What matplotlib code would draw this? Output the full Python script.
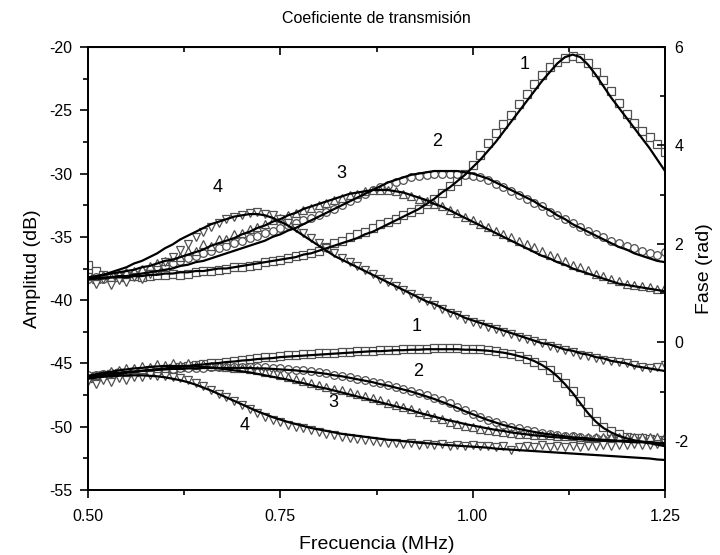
import numpy as np
import matplotlib
matplotlib.use("Agg")
import matplotlib.pyplot as plt
from matplotlib.ticker import MultipleLocator

plt.rcParams['font.family'] = ['Liberation Sans', 'DejaVu Sans']
plt.rcParams['axes.unicode_minus'] = False

# frequency grid (MHz)
freq = np.round(np.arange(0.50, 1.2501, 0.01), 2)

# ---- amplitude (dB), measured points ----
amp1 = [-37.2, -37.7, -38.0, -38.1, -38.2, -38.1, -38.1, -38.2, -38.1, -38.0,
        -38.0, -37.9, -38.0, -37.9, -37.8, -37.7, -37.7, -37.6, -37.5, -37.4,
        -37.4, -37.3, -37.2, -37.0, -36.9, -36.8, -36.7, -36.5, -36.4, -36.3,
        -36.1, -35.8, -35.5, -35.3, -35.0, -34.8, -34.6, -34.3, -34.0, -33.8,
        -33.6, -33.3, -33.0, -32.8, -32.4, -32.0, -31.5, -31.0, -30.6, -30.0,
        -29.3, -28.5, -27.6, -26.8, -26.1, -25.4, -24.5, -23.7, -22.9, -22.2,
        -21.6, -21.2, -20.9, -20.7, -20.9, -21.3, -22.0, -22.6, -23.5, -24.4,
        -25.3, -26.0, -26.6, -27.1, -27.7, -28.3]
amp2 = [-38.3, -38.2, -38.3, -38.1, -38.1, -38.0, -37.9, -37.8, -37.6, -37.5,
        -37.3, -37.1, -36.9, -36.7, -36.5, -36.3, -36.1, -35.9, -35.7, -35.5,
        -35.3, -35.1, -34.9, -34.7, -34.5, -34.3, -34.1, -33.9, -33.7, -33.5,
        -33.3, -33.0, -32.8, -32.5, -32.2, -31.9, -31.6, -31.3, -31.1, -30.9,
        -30.7, -30.5, -30.3, -30.2, -30.1, -30.0, -30.0, -30.0, -30.0, -30.1,
        -30.2, -30.3, -30.5, -30.8, -31.1, -31.4, -31.7, -32.0, -32.3, -32.6,
        -33.0, -33.3, -33.6, -33.9, -34.2, -34.5, -34.8, -35.0, -35.3, -35.5,
        -35.7, -35.9, -36.1, -36.3, -36.4, -36.2]
amp3 = [-38.1, -38.3, -38.0, -38.2, -37.9, -37.8, -37.7, -37.5, -37.3, -37.1,
        -36.9, -36.6, -36.6, -36.1, -36.1, -35.6, -35.7, -35.2, -35.2, -34.8,
        -34.7, -34.4, -34.2, -34.0, -33.7, -33.5, -33.3, -33.1, -32.9, -32.7,
        -32.5, -32.3, -32.1, -31.9, -31.7, -31.6, -31.4, -31.3, -31.3, -31.3,
        -31.4, -31.6, -31.8, -32.0, -32.2, -32.4, -32.6, -32.9, -33.1, -33.4,
        -33.7, -34.0, -34.2, -34.5, -34.8, -35.0, -35.3, -35.6, -35.8, -36.1,
        -36.4, -36.6, -36.9, -37.2, -37.4, -37.6, -37.9, -38.1, -38.3, -38.5,
        -38.7, -38.8, -38.9, -39.0, -39.1, -39.0]
amp4 = [-38.2, -38.7, -38.3, -38.8, -38.4, -38.6, -38.2, -38.3, -37.9, -37.6,
        -37.0, -36.6, -36.0, -35.6, -35.0, -34.6, -34.2, -33.9, -33.6, -33.4,
        -33.3, -33.1, -33.0, -33.2, -33.3, -33.6, -33.9, -34.3, -34.7, -35.1,
        -35.5, -35.9, -36.3, -36.7, -37.0, -37.3, -37.6, -37.9, -38.3, -38.6,
        -38.9, -39.2, -39.5, -39.8, -40.1, -40.4, -40.7, -41.0, -41.2, -41.5,
        -41.7, -41.9, -42.1, -42.3, -42.5, -42.7, -42.9, -43.1, -43.2, -43.4,
        -43.6, -43.8, -43.9, -44.1, -44.3, -44.4, -44.6, -44.7, -44.8, -44.9,
        -45.0, -45.1, -45.3, -45.4, -45.3, -45.1]

# ---- amplitude (dB), fitted curves ----
amp1_fit = [-38.3, -38.3, -38.3, -38.2, -38.2, -38.2, -38.1, -38.1, -38.0, -38.0,
            -37.9, -37.9, -37.8, -37.8, -37.7, -37.7, -37.6, -37.5, -37.5, -37.4,
            -37.3, -37.2, -37.1, -37.0, -36.9, -36.8, -36.7, -36.6, -36.4, -36.3,
            -36.1, -35.9, -35.7, -35.5, -35.3, -35.1, -34.8, -34.6, -34.3, -34.0,
            -33.7, -33.4, -33.1, -32.8, -32.4, -32.0, -31.5, -31.1, -30.6, -30.1,
            -29.5, -28.9, -28.2, -27.5, -26.7, -25.9, -25.1, -24.3, -23.5, -22.7,
            -22.0, -21.3, -20.8, -20.6, -20.8, -21.4, -22.2, -23.1, -24.0, -24.8,
            -25.6, -26.4, -27.2, -28.0, -28.9, -29.8]
amp2_fit = [-38.3, -38.3, -38.2, -38.2, -38.1, -38.1, -38.0, -37.9, -37.8, -37.7,
            -37.6, -37.5, -37.3, -37.2, -37.0, -36.9, -36.7, -36.5, -36.3, -36.1,
            -35.9, -35.7, -35.5, -35.3, -35.0, -34.8, -34.5, -34.3, -34.0, -33.7,
            -33.4, -33.1, -32.8, -32.5, -32.2, -31.9, -31.6, -31.3, -31.0, -30.7,
            -30.5, -30.3, -30.1, -30.0, -29.9, -29.8, -29.8, -29.8, -29.8, -29.9,
            -30.0, -30.2, -30.4, -30.7, -31.0, -31.3, -31.6, -31.9, -32.2, -32.6,
            -32.9, -33.3, -33.6, -34.0, -34.3, -34.6, -34.9, -35.2, -35.5, -35.8,
            -36.0, -36.3, -36.5, -36.7, -36.9, -37.0]
amp3_fit = [-38.2, -38.1, -38.0, -37.9, -37.8, -37.7, -37.6, -37.4, -37.3, -37.1,
            -36.9, -36.8, -36.6, -36.4, -36.2, -36.0, -35.7, -35.5, -35.3, -35.1,
            -34.8, -34.6, -34.3, -34.1, -33.8, -33.6, -33.3, -33.1, -32.8, -32.6,
            -32.4, -32.2, -32.0, -31.8, -31.6, -31.5, -31.4, -31.3, -31.3, -31.3,
            -31.4, -31.5, -31.7, -31.9, -32.1, -32.4, -32.6, -32.9, -33.2, -33.5,
            -33.8, -34.1, -34.4, -34.7, -35.0, -35.3, -35.6, -35.9, -36.2, -36.5,
            -36.7, -37.0, -37.2, -37.5, -37.7, -37.9, -38.1, -38.3, -38.5, -38.7,
            -38.8, -38.9, -39.0, -39.1, -39.2, -39.3]
amp4_fit = [-38.3, -38.2, -38.0, -37.8, -37.6, -37.4, -37.1, -36.9, -36.6, -36.3,
            -35.9, -35.6, -35.2, -34.9, -34.6, -34.3, -34.0, -33.8, -33.6, -33.4,
            -33.3, -33.2, -33.2, -33.3, -33.5, -33.8, -34.1, -34.5, -34.9, -35.3,
            -35.7, -36.1, -36.5, -36.8, -37.1, -37.4, -37.7, -38.0, -38.3, -38.6,
            -38.9, -39.2, -39.5, -39.8, -40.1, -40.3, -40.6, -40.9, -41.1, -41.4,
            -41.6, -41.8, -42.0, -42.2, -42.4, -42.6, -42.8, -43.0, -43.2, -43.4,
            -43.5, -43.7, -43.9, -44.0, -44.2, -44.3, -44.5, -44.6, -44.8, -44.9,
            -45.0, -45.2, -45.3, -45.4, -45.5, -45.6]

# ---- phase (rad), measured points ----
ph1 = [-0.70, -0.68, -0.66, -0.65, -0.63, -0.62, -0.60, -0.58, -0.57, -0.56,
       -0.54, -0.53, -0.51, -0.49, -0.47, -0.45, -0.43, -0.41, -0.39, -0.38,
       -0.35, -0.33, -0.32, -0.30, -0.29, -0.27, -0.26, -0.25, -0.24, -0.23,
       -0.22, -0.21, -0.21, -0.20, -0.19, -0.18, -0.18, -0.17, -0.16, -0.16,
       -0.15, -0.14, -0.14, -0.13, -0.13, -0.12, -0.12, -0.12, -0.12, -0.13,
       -0.13, -0.14, -0.16, -0.18, -0.21, -0.24, -0.28, -0.33, -0.39, -0.46,
       -0.57, -0.70, -0.83, -0.99, -1.20, -1.42, -1.60, -1.72, -1.81, -1.87,
       -1.92, -1.94, -1.95, -1.96, -1.98, -1.99]
ph2 = [-0.67, -0.66, -0.64, -0.63, -0.61, -0.60, -0.59, -0.58, -0.57, -0.56,
       -0.55, -0.54, -0.53, -0.53, -0.52, -0.52, -0.51, -0.51, -0.50, -0.50,
       -0.50, -0.50, -0.51, -0.51, -0.52, -0.53, -0.54, -0.56, -0.57, -0.59,
       -0.61, -0.63, -0.66, -0.68, -0.71, -0.74, -0.77, -0.80, -0.83, -0.87,
       -0.90, -0.94, -0.98, -1.03, -1.08, -1.13, -1.18, -1.24, -1.31, -1.38,
       -1.45, -1.51, -1.57, -1.62, -1.67, -1.71, -1.75, -1.78, -1.81, -1.84,
       -1.86, -1.88, -1.90, -1.91, -1.93, -1.94, -1.95, -1.96, -1.97, -1.97,
       -1.98, -1.99, -1.99, -2.00, -2.01, -2.01]
ph3 = [-0.72, -0.66, -0.64, -0.58, -0.57, -0.52, -0.53, -0.48, -0.50, -0.45,
       -0.47, -0.43, -0.46, -0.42, -0.46, -0.45, -0.48, -0.49, -0.50, -0.52,
       -0.53, -0.55, -0.57, -0.60, -0.63, -0.67, -0.71, -0.75, -0.79, -0.83,
       -0.87, -0.90, -0.94, -0.97, -1.01, -1.05, -1.09, -1.14, -1.18, -1.23,
       -1.27, -1.32, -1.36, -1.41, -1.46, -1.51, -1.56, -1.61, -1.65, -1.69,
       -1.73, -1.76, -1.79, -1.81, -1.83, -1.85, -1.86, -1.87, -1.88, -1.89,
       -1.89, -1.90, -1.91, -1.91, -1.92, -1.92, -1.92, -1.93, -1.92, -1.93,
       -1.92, -1.93, -1.92, -1.92, -1.93, -1.91]
ph4 = [-0.78, -0.84, -0.76, -0.80, -0.72, -0.76, -0.70, -0.71, -0.67, -0.68,
       -0.68, -0.70, -0.73, -0.76, -0.82, -0.88, -0.96, -1.04, -1.12, -1.20,
       -1.28, -1.36, -1.44, -1.51, -1.57, -1.62, -1.67, -1.71, -1.75, -1.79,
       -1.82, -1.86, -1.88, -1.92, -1.94, -1.97, -1.99, -2.01, -2.03, -2.05,
       -2.04, -2.07, -2.05, -2.08, -2.06, -2.09, -2.07, -2.10, -2.08, -2.11,
       -2.09, -2.11, -2.10, -2.13, -2.11, -2.19, -2.12, -2.10, -2.13, -2.09,
       -2.12, -2.10, -2.13, -2.11, -2.12, -2.10, -2.11, -2.09, -2.10, -2.08,
       -2.09, -2.07, -2.09, -2.08, -2.06, -2.04]

# ---- phase (rad), fitted curves ----
ph1_fit = [-0.72, -0.70, -0.68, -0.66, -0.64, -0.62, -0.60, -0.58, -0.56, -0.55,
           -0.53, -0.51, -0.50, -0.48, -0.46, -0.45, -0.43, -0.42, -0.40, -0.39,
           -0.37, -0.36, -0.34, -0.33, -0.32, -0.30, -0.29, -0.28, -0.27, -0.26,
           -0.25, -0.24, -0.23, -0.22, -0.21, -0.20, -0.19, -0.18, -0.18, -0.17,
           -0.16, -0.16, -0.15, -0.15, -0.14, -0.14, -0.14, -0.14, -0.14, -0.15,
           -0.15, -0.16, -0.17, -0.19, -0.21, -0.24, -0.28, -0.32, -0.38, -0.46,
           -0.56, -0.69, -0.85, -1.03, -1.24, -1.44, -1.61, -1.74, -1.83, -1.90,
           -1.95, -1.99, -2.02, -2.05, -2.08, -2.11]
ph2_fit = [-0.69, -0.67, -0.65, -0.63, -0.62, -0.60, -0.59, -0.58, -0.57, -0.56,
           -0.55, -0.54, -0.54, -0.53, -0.53, -0.52, -0.52, -0.52, -0.52, -0.52,
           -0.52, -0.52, -0.53, -0.53, -0.54, -0.55, -0.56, -0.57, -0.59, -0.60,
           -0.62, -0.64, -0.67, -0.69, -0.72, -0.75, -0.78, -0.81, -0.85, -0.88,
           -0.92, -0.96, -1.00, -1.05, -1.10, -1.15, -1.21, -1.27, -1.33, -1.40,
           -1.46, -1.52, -1.58, -1.63, -1.68, -1.72, -1.76, -1.79, -1.82, -1.85,
           -1.87, -1.89, -1.91, -1.93, -1.94, -1.95, -1.97, -1.98, -1.99, -2.00,
           -2.00, -2.01, -2.02, -2.03, -2.04, -2.05]
ph3_fit = [-0.68, -0.65, -0.62, -0.60, -0.57, -0.55, -0.53, -0.52, -0.50, -0.49,
           -0.48, -0.48, -0.48, -0.48, -0.49, -0.50, -0.51, -0.53, -0.55, -0.57,
           -0.59, -0.61, -0.64, -0.67, -0.70, -0.73, -0.76, -0.80, -0.83, -0.87,
           -0.91, -0.94, -0.98, -1.02, -1.06, -1.10, -1.14, -1.18, -1.22, -1.26,
           -1.30, -1.34, -1.38, -1.43, -1.47, -1.51, -1.55, -1.59, -1.62, -1.66,
           -1.69, -1.72, -1.75, -1.78, -1.80, -1.83, -1.85, -1.87, -1.89, -1.90,
           -1.92, -1.93, -1.94, -1.96, -1.97, -1.98, -1.99, -2.00, -2.00, -2.01,
           -2.02, -2.03, -2.03, -2.04, -2.05, -2.06]
ph4_fit = [-0.74, -0.72, -0.70, -0.69, -0.68, -0.67, -0.67, -0.67, -0.68, -0.69,
           -0.71, -0.74, -0.77, -0.81, -0.86, -0.92, -0.98, -1.05, -1.12, -1.19,
           -1.26, -1.33, -1.40, -1.46, -1.52, -1.57, -1.62, -1.66, -1.70, -1.74,
           -1.77, -1.80, -1.83, -1.86, -1.88, -1.90, -1.92, -1.94, -1.96, -1.98,
           -1.99, -2.01, -2.02, -2.04, -2.05, -2.06, -2.08, -2.09, -2.10, -2.11,
           -2.12, -2.13, -2.14, -2.16, -2.17, -2.18, -2.19, -2.20, -2.21, -2.22,
           -2.23, -2.24, -2.25, -2.26, -2.27, -2.28, -2.29, -2.30, -2.31, -2.32,
           -2.33, -2.34, -2.35, -2.36, -2.38, -2.39]

# curve labels (freq, dB on left axis)
curve_ids = ["1", "2", "3", "4"]
amp_label_x = [1.068, 0.954, 0.829, 0.669]
amp_label_y = [-21.4, -27.5, -30.0, -31.1]
ph_label_x = [0.927, 0.929, 0.819, 0.704]
ph_label_y = [-42.1, -45.65, -48.1, -49.9]

x_ticks = [0.50, 0.75, 1.00, 1.25]
x_ticklabels = ["0.50", "0.75", "1.00", "1.25"]
amp_ticks = [-55, -50, -45, -40, -35, -30, -25, -20]
ph_ticks = [-2, 0, 2, 4, 6]

fig = plt.figure(figsize=(7.2, 5.55), dpi=100)
ax = fig.add_axes([88 / 720, 1 - 490 / 555, 577 / 720, 443 / 555])
ax2 = ax.twinx()

markers = ['s', 'o', '^', 'v']
msizes = [5.5, 5.5, 6.0, 6.0]
ecol = '#505050'
amp_data = [amp1, amp2, amp3, amp4]
amp_fits = [amp1_fit, amp2_fit, amp3_fit, amp4_fit]
ph_data = [ph1, ph2, ph3, ph4]
ph_fits = [ph1_fit, ph2_fit, ph3_fit, ph4_fit]

for d, m, ms in zip(amp_data, markers, msizes):
    ax.plot(freq, d, linestyle='none', marker=m, ms=ms, mfc='white',
            mec=ecol, mew=0.9, zorder=2)
for f in amp_fits:
    ax.plot(freq, f, color='black', lw=1.6, zorder=3)
for d, m, ms in zip(ph_data, markers, msizes):
    ax2.plot(freq, d, linestyle='none', marker=m, ms=ms, mfc='white',
             mec=ecol, mew=0.9, zorder=2)
for f in ph_fits:
    ax2.plot(freq, f, color='black', lw=1.6, zorder=3)

fs_tick = 11.5
for lbl, x, y in zip(curve_ids, amp_label_x, amp_label_y):
    ax.text(x, y, lbl, ha='center', va='center', fontsize=13, zorder=5)
for lbl, x, y in zip(curve_ids, ph_label_x, ph_label_y):
    ax.text(x, y, lbl, ha='center', va='center', fontsize=13, zorder=5)

ax.set_xlim(0.50, 1.25)
ax.set_ylim(-55, -20)
ax2.set_ylim(-3, 6)
ax.set_xticks(x_ticks)
ax.set_xticklabels(x_ticklabels)
ax.xaxis.set_minor_locator(MultipleLocator(0.125))
ax.set_yticks(amp_ticks)
ax.yaxis.set_minor_locator(MultipleLocator(2.5))
ax2.set_yticks(ph_ticks)
ax2.yaxis.set_minor_locator(MultipleLocator(1))

ax.tick_params(axis='both', which='major', direction='out', length=6, width=1.2,
               labelsize=fs_tick, pad=5)
ax.tick_params(axis='x', which='major', pad=8)
ax.tick_params(axis='both', which='minor', direction='out', length=3.5, width=1.2)
ax2.tick_params(axis='y', which='major', direction='in', length=6, width=1.2,
                labelsize=fs_tick, pad=7)
ax2.tick_params(axis='y', which='minor', direction='in', length=3.5, width=1.2)

secx = ax.secondary_xaxis('top')
secx.set_xticks(x_ticks)
secx.xaxis.set_minor_locator(MultipleLocator(0.125))
secx.tick_params(which='major', direction='in', length=6, width=1.2, labeltop=False)
secx.tick_params(which='minor', direction='in', length=3.5, width=1.2)
secx.set_xticklabels([])

for a in (ax, ax2):
    for s in a.spines.values():
        s.set_linewidth(1.3)

ax.set_xlabel("Frecuencia (MHz)", fontsize=14, labelpad=8)
ax.set_ylabel("Amplitud (dB)", fontsize=14, labelpad=6)
ax2.set_ylabel("Fase (rad)", fontsize=14, labelpad=5)
ax.set_title("Coeficiente de transmisión", fontsize=11.5, pad=17)

fig.savefig("out.png", dpi=100)
